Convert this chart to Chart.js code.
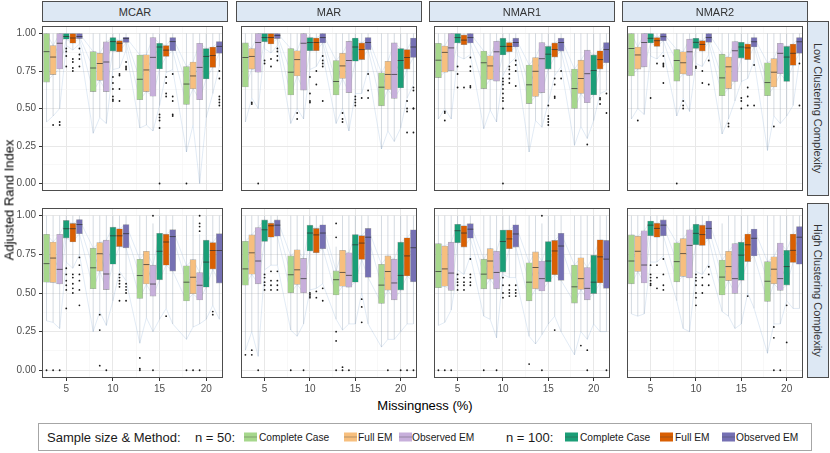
<!DOCTYPE html>
<html>
<head>
<meta charset="utf-8">
<script src="https://cdn.jsdelivr.net/npm/chart.js@4.4.1/dist/chart.umd.min.js"></script>
<style>
  body { margin: 0; width: 830px; height: 453px; background: #fff; position: relative; overflow: hidden;
         font-family: "Liberation Sans", Arial, sans-serif; color: #1a1a1a; }
  canvas { position: absolute; }
  .strip { position: absolute; background: #dde8f4; border: 1px solid #4d4d4d; box-sizing: border-box;
           font-size: 11px; color: #333; display: flex; align-items: center; justify-content: center; white-space: nowrap; }
  .strip.side { writing-mode: vertical-rl; }
  .title { position: absolute; font-size: 13px; color: #000; white-space: nowrap; }
  #legend { position: absolute; left: 38px; top: 423px; width: 774px; height: 28px; border: 1px solid #a6a6a6;
            box-sizing: border-box; }
  #legend span { position: absolute; top: 50%; transform: translateY(-50%); white-space: nowrap; }
  #legend .big { font-size: 13px; }
  #legend .item { font-size: 10.2px; }
  #legend .key { width: 13px; height: 9px; }
  #legend .key::after { content: ""; position: absolute; left: 0; right: 0; top: 4px; height: 1px; background: rgba(60,60,60,0.35); }
</style>
</head>
<body>
<div id="legend"></div>
<script>
// facets, groups and tick labels
const mechanisms = ['MCAR', 'MAR', 'NMAR1', 'NMAR2'];
const complexities = ['Low Clustering Complexity', 'High Clustering Complexity'];
const missingLevels = [5, 10, 15, 20];
const methods = ['Complete Case', 'Full EM', 'Observed EM'];
const sampleSizes = ['n = 50:', 'n = 100:'];
const yTicks = [0, 0.25, 0.5, 0.75, 1];
const xTicks = [5, 10, 15, 20];

// box stats: [lower whisker, q1, median, q3, upper whisker, outliers]
// per missingness level: n=50 CC, FEM, OEM, then n=100 CC, FEM, OEM
const mcarLow = [
  [0.41,0.676,0.879,1,1,[]], [0.45,0.726,0.843,0.92,1,[0.39]], [0.5,0.764,0.935,1,1,[0.39,0.41]],
  [0.92,0.962,0.98,1,1,[0.9,0.88,0.85,0.78]], [0.89,0.935,0.97,1,1,[0.83,0.81,0.77,0.75]], [0.93,0.966,0.98,1,1,[0.9,0.86,0.83,0.78]],
  [0.335,0.613,0.77,0.879,1,[]], [0.44,0.688,0.8,0.868,1,[]], [0.4,0.613,0.81,0.944,1,[]],
  [0.76,0.883,0.946,0.973,1,[0.71,0.67,0.63,0.58,0.56,0.55]], [0.77,0.879,0.935,0.952,1,[0.73,0.72,0.63,0.55]], [0.89,0.94,0.966,0.975,1,[0.81,0.78,0.77,0.76]],
  [0.37,0.559,0.695,0.856,1,[]], [0.39,0.613,0.757,0.858,1,[]], [0.35,0.582,0.841,0.973,1,[]],
  [0.52,0.764,0.91,0.935,1,[0.46,0.44,0.42,0.37,0]], [0.74,0.847,0.889,0.92,1,[0.71,0.67,0.6,0.58]], [0.76,0.885,0.946,0.973,1,[0.73,0.58,0.55,0.46,0.45]],
  [0.21,0.527,0.663,0.78,1,[0]], [0.39,0.632,0.717,0.81,1,[]], [0,0.559,0.774,0.935,1,[]],
  [0.44,0.697,0.847,0.9,1,[]], [0.6,0.774,0.853,0.91,1,[]], [0.78,0.868,0.914,0.946,1,[0.75,0.7,0.58,0.56,0.54,0.52]]
];
const marLow = [
  [0.41,0.644,0.84,0.937,1,[]], [0.57,0.763,0.847,0.9,1,[0.54,0.53]], [0.5,0.742,0.94,1,1,[0]],
  [0.9,0.945,0.973,1,1,[0.82,0.8]], [0.87,0.93,0.973,1,1,[0.83,0.78]], [0.92,0.966,0.987,1,1,[0.9,0.88,0.85,0.82]],
  [0.4,0.59,0.742,0.9,1,[]], [0.5,0.717,0.826,0.885,1,[0.47,0.43]], [0.43,0.623,0.935,1,1,[]],
  [0.76,0.885,0.94,0.973,1,[0.71,0.6,0.55,0.54]], [0.78,0.885,0.94,0.97,1,[0.75,0.66]], [0.86,0.937,0.973,1,1,[0.85,0.82,0.8,0.78,0.55]],
  [0.4,0.59,0.68,0.82,1,[]], [0.5,0.7,0.784,0.868,1,[0.47,0.43,0.41]], [0.35,0.606,0.82,0.947,1,[]],
  [0.6,0.815,0.91,0.97,1,[0.58,0.56,0.54,0.52]], [0.6,0.826,0.893,0.937,1,[0.57]], [0.76,0.893,0.94,0.973,1,[0.73,0.62,0.57]],
  [0.23,0.518,0.642,0.738,1,[]], [0.35,0.627,0.727,0.815,1,[]], [0.28,0.568,0.727,0.937,1,[]],
  [0.37,0.637,0.82,0.9,1,[]], [0.57,0.763,0.84,0.893,1,[0.55,0.5,0.48,0.34]], [0.66,0.84,0.91,0.97,1,[0.64,0.62,0.5,0.5,0.34]]
];
const nmar1Low = [
  [0.43,0.706,0.822,0.935,1,[]], [0.5,0.742,0.874,0.916,1,[0.48,0.47,0.42]], [0.43,0.753,0.904,1,1,[]],
  [0.85,0.937,0.973,1,1,[0.78,0.73,0.64]], [0.83,0.925,0.956,0.99,1,[0.64]], [0.86,0.937,0.973,1,1,[0.84,0.78,0.75,0.65,0.64]],
  [0.365,0.633,0.805,0.883,1,[]], [0.49,0.694,0.784,0.851,1,[]], [0.41,0.683,0.878,0.948,1,[]],
  [0.72,0.857,0.914,0.969,1,[0.7,0.68,0.66,0.63,0.6,0.57,0.55,0.5,0]], [0.8,0.878,0.914,0.94,1,[0.78,0.76,0.73,0.7,0.67]], [0.84,0.91,0.94,0.969,1,[0.82,0.79,0.75,0.65]],
  [0.21,0.533,0.658,0.79,1,[]], [0.42,0.58,0.748,0.84,1,[]], [0.375,0.606,0.832,0.94,1,[]],
  [0.54,0.763,0.862,0.914,1,[0.52,0.45,0.43,0.41,0.39]], [0.72,0.843,0.893,0.937,1,[0.7,0.66,0.58,0.57]], [0.78,0.883,0.94,0.969,1,[0.75,0.7]],
  [0.254,0.5,0.633,0.763,1,[]], [0.38,0.6,0.7,0.822,1,[]], [0.3,0.539,0.732,0.889,1,[0.26]],
  [0.42,0.59,0.753,0.857,1,[]], [0.6,0.763,0.826,0.885,1,[0.57,0.56,0.53]], [0.62,0.805,0.893,0.94,1,[0.6,0.47]]
];
const nmar2Low = [
  [0.43,0.717,0.9,1,1,[]], [0.5,0.763,0.857,0.91,1,[0.42]], [0.46,0.778,0.94,1,1,[]],
  [0.85,0.937,0.968,1,1,[0.57]], [0.83,0.914,0.952,0.973,1,[0.8]], [0.88,0.952,0.979,1,1,[0.85,0.8,0.79,0.78,0.67]],
  [0.45,0.683,0.82,0.893,1,[0]], [0.57,0.73,0.805,0.878,1,[0.55,0.52,0.5]], [0.48,0.72,0.878,0.962,1,[]],
  [0.8,0.9,0.941,0.968,1,[0.78,0.77]], [0.78,0.883,0.927,0.952,1,[0.75,0.67]], [0.86,0.941,0.973,1,1,[0.82,0.66]],
  [0.33,0.585,0.704,0.862,1,[]], [0.43,0.633,0.778,0.843,1,[0.4,0.38]], [0.55,0.68,0.885,0.946,1,[]],
  [0.68,0.836,0.91,0.941,1,[0.57,0.55,0.5]], [0.7,0.826,0.904,0.93,1,[0.64,0.58,0.52]], [0.82,0.91,0.945,0.973,1,[0.79,0.52]],
  [0.22,0.585,0.673,0.805,1,[]], [0.45,0.644,0.742,0.832,1,[0.38]], [0.4,0.732,0.868,0.935,1,[]],
  [0.45,0.68,0.843,0.914,1,[]], [0.52,0.788,0.868,0.93,1,[]], [0.82,0.868,0.945,0.973,1,[0.8,0.52]]
];
const mcarHigh = [
  [0.32,0.57,0.69,0.88,1,[0]], [0.31,0.568,0.726,0.83,1,[0]], [0.27,0.558,0.653,0.88,1,[0]],
  [0.7,0.855,0.916,0.97,1,[0.66,0.62,0.58,0.55,0.52,0.4]], [0.66,0.83,0.916,0.95,1,[0.62,0.6,0.56,0.53,0.5]], [0.75,0.884,0.943,0.975,1,[0.73,0.68,0.62,0.58,0.52,0.42]],
  [0.25,0.528,0.663,0.79,1,[]], [0.38,0.642,0.754,0.827,1,[0.36,0.26,0.03]], [0.29,0.522,0.623,0.842,1,[0]],
  [0.45,0.686,0.87,0.926,1,[]], [0.64,0.8,0.87,0.916,1,[0.62,0.6,0.58,0.56,0.54,0.45]], [0.58,0.792,0.884,0.943,1,[0.56,0.54,0.52,0.5,0.45]],
  [0.175,0.465,0.613,0.718,1,[0.08,0.01,0]], [0.34,0.558,0.684,0.77,1,[]], [0.25,0.48,0.558,0.68,0.95,[1,0]],
  [0.33,0.585,0.77,0.886,1,[]], [0.4,0.68,0.83,0.88,1,[0.35]], [0.3,0.642,0.865,0.91,1,[]],
  [0.2,0.448,0.57,0.676,1,[0]], [0.28,0.495,0.602,0.716,1,[0]], [0.3,0.455,0.55,0.632,0.88,[1,0.95,0.93,0.9,0]],
  [0.33,0.537,0.7,0.842,1,[]], [0.42,0.655,0.775,0.827,1,[0.38,0.36]], [0.33,0.564,0.775,0.884,1,[]]
];
const marHigh = [
  [0.13,0.55,0.656,0.835,1,[0.1]], [0.25,0.622,0.76,0.876,1,[0.13,0.1]], [0.09,0.559,0.707,0.924,1,[0]],
  [0.65,0.833,0.909,0.973,1,[0.62,0.6,0.57,0.55,0.52]], [0.68,0.861,0.935,0.951,1,[0.64,0.58,0.55,0.52]], [0.68,0.867,0.939,0.973,1,[0.64,0.58,0.55,0.52]],
  [0.26,0.502,0.618,0.74,1,[0]], [0.22,0.555,0.65,0.78,1,[]], [0.3,0.502,0.593,0.724,1,[0]],
  [0.52,0.772,0.888,0.939,1,[0.5,0.49,0.48,0.47]], [0.53,0.76,0.876,0.918,1,[0.51,0.47]], [0.56,0.787,0.888,0.941,1,[0.53,0.45]],
  [0.33,0.487,0.586,0.643,0.8,[0.95,0.86,0.25,0.19,0]], [0.26,0.544,0.633,0.776,1,[0.02,0]], [0.3,0.538,0.614,0.76,1,[0]],
  [0.3,0.57,0.812,0.878,1,[]], [0.5,0.717,0.823,0.871,1,[0.46,0.41,0.31]], [0.3,0.601,0.861,0.918,1,[]],
  [0.15,0.432,0.551,0.686,1,[]], [0.2,0.519,0.639,0.74,1,[0]], [0.2,0.456,0.565,0.719,1,[]],
  [0.25,0.519,0.614,0.829,1,[0]], [0.3,0.61,0.74,0.857,1,[0]], [0.3,0.572,0.793,0.909,1,[0]]
];
const nmar1High = [
  [0.29,0.534,0.639,0.819,1,[0]], [0.31,0.544,0.656,0.804,1,[0]], [0.39,0.517,0.629,0.829,1,[0]],
  [0.65,0.825,0.903,0.945,1,[0.62,0.59,0.57,0.55,0.52]], [0.62,0.797,0.888,0.935,1,[0.6,0.57,0.55,0.52]], [0.74,0.854,0.913,0.949,1,[0.72,0.62,0.6,0.57,0.55]],
  [0.35,0.527,0.622,0.719,1,[0]], [0.33,0.59,0.707,0.787,1,[]], [0.21,0.527,0.633,0.77,1,[0]],
  [0.62,0.635,0.833,0.907,1,[0.6,0.55,0.5,0.47]], [0.6,0.787,0.85,0.907,1,[0.55,0.52,0.5,0.48]], [0.6,0.797,0.882,0.941,1,[0.55,0.52,0.5,0.48]],
  [0.22,0.449,0.57,0.696,1,[0.04]], [0.17,0.527,0.665,0.766,1,[]], [0.23,0.513,0.593,0.707,0.95,[1,0]],
  [0.3,0.572,0.707,0.833,1,[]], [0.35,0.618,0.772,0.84,1,[0.26]], [0.25,0.582,0.804,0.886,1,[]],
  [0.1,0.435,0.54,0.681,1,[]], [0.25,0.523,0.593,0.728,1,[0.16]], [0.2,0.456,0.53,0.665,1,[0.13,0]],
  [0.3,0.496,0.57,0.745,1,[]], [0.25,0.565,0.734,0.844,1,[]], [0.25,0.53,0.719,0.84,1,[0]]
];
const nmar2High = [
  [0.365,0.559,0.707,0.876,1,[]], [0.35,0.639,0.77,0.867,1,[]], [0.365,0.565,0.681,0.903,1,[]],
  [0.7,0.871,0.939,0.966,1,[0.68,0.62,0.6,0.58,0.56,0.55]], [0.7,0.861,0.918,0.951,1,[0.68,0.6,0.53]], [0.74,0.871,0.939,0.973,1,[0.72,0.62,0.55,0.52]],
  [0.45,0.572,0.703,0.825,1,[]], [0.27,0.608,0.755,0.852,1,[]], [0.25,0.597,0.808,0.909,1,[]],
  [0.64,0.812,0.886,0.945,1,[0.62,0.6,0.58,0.55,0.5,0.47,0.42]], [0.62,0.808,0.878,0.939,1,[0.6,0.55,0.5]], [0.69,0.85,0.918,0.966,1,[0.67,0.62,0.55]],
  [0.38,0.487,0.603,0.713,0.95,[]], [0.35,0.58,0.671,0.77,1,[]], [0.27,0.498,0.593,0.819,1,[]],
  [0.3,0.582,0.745,0.829,1,[]], [0.5,0.703,0.812,0.882,1,[0.48]], [0.4,0.74,0.854,0.914,1,[]],
  [0.11,0.445,0.576,0.703,1,[]], [0.3,0.559,0.654,0.734,1,[0.28,0.21,0]], [0.3,0.517,0.593,0.823,1,[0]],
  [0.45,0.551,0.671,0.776,1,[0.42,0.18]], [0.4,0.698,0.776,0.882,1,[]], [0.4,0.686,0.861,0.93,1,[]]
];

const panelRows = [
  [mcarLow, marLow, nmar1Low, nmar2Low],
  [mcarHigh, marHigh, nmar1High, nmar2High]
];

// n=50 (light) then n=100 (dark)
const boxColors = ['#a6d78c', '#f7bf7e', '#c7afdb', '#1b9e77', '#d95f02', '#7570b3'];

// layout
const colLeft = [42, 236, 429, 622];
const rowTop = [21, 203];
const panelW = 186, panelH = 175;
const dodge = 0.705;

function boxX(b) {
  const level = missingLevels[Math.floor(b / 6)];
  return level + (b % 6 - 3) * dodge;
}

const panelBorder = {
  id: 'panelBorder',
  afterDraw(chart) {
    const a = chart.chartArea, ctx = chart.ctx;
    ctx.save();
    ctx.strokeStyle = '#4d4d4d';
    ctx.lineWidth = 1;
    ctx.strokeRect(a.left + 0.5, a.top + 0.5, a.right - a.left - 1, a.bottom - a.top - 1);
    ctx.restore();
  }
};

function makePanel(r, c) {
  const boxes = panelRows[r][c];
  const showY = c === 0, showX = r === 1;
  const canvas = document.createElement('canvas');
  const w = panelW + (showY ? 40 : 0);
  const h = panelH + (showX ? 18 : 0);
  canvas.width = w; canvas.height = h;
  canvas.style.left = (colLeft[c] - (showY ? 40 : 0)) + 'px';
  canvas.style.top = rowTop[r] + 'px';
  canvas.style.width = w + 'px'; canvas.style.height = h + 'px';
  document.body.appendChild(canvas);

  const datasets = [];

  // faint connecting lines behind the boxes
  [0, 1, 2, 3].forEach(s => {
    datasets.push({
      type: 'line', order: 6,
      data: boxes.map((bx, b) => ({ x: boxX(b), y: bx[s] })),
      borderColor: 'rgba(96,146,200,0.3)', borderWidth: 0.6, pointRadius: 0, tension: 0
    });
  });

  // whiskers: one broken line, lower -> upper for every box
  const whisk = [];
  boxes.forEach((bx, b) => {
    whisk.push({ x: boxX(b), y: bx[0] }, { x: boxX(b), y: bx[4] }, { x: boxX(b), y: null });
  });
  datasets.push({
    type: 'line', order: 5, data: whisk, spanGaps: false,
    borderColor: 'rgba(135,152,172,0.6)', borderWidth: 0.6, pointRadius: 0
  });

  // boxes, one dataset per sample size / method
  for (let k = 0; k < 6; k++) {
    datasets.push({
      type: 'bar', order: 4,
      label: sampleSizes[k < 3 ? 0 : 1] + ' ' + methods[k % 3],
      data: missingLevels.map((lv, g) => {
        const bx = boxes[g * 6 + k];
        return { x: boxX(g * 6 + k), y: [bx[1], bx[3]] };
      }),
      backgroundColor: boxColors[k], borderColor: 'rgba(70,70,70,0.45)', borderWidth: 0.6,
      borderSkipped: false, barThickness: 6, grouped: false
    });
  }

  // medians
  datasets.push({
    type: 'line', order: 3, showLine: false,
    data: boxes.map((bx, b) => ({ x: boxX(b), y: bx[2] })),
    pointStyle: 'line', pointRadius: 3, pointBorderWidth: 1, pointBorderColor: 'rgba(45,45,45,0.7)'
  });

  // outliers
  const outs = [];
  boxes.forEach((bx, b) => bx[5].forEach(v => outs.push({ x: boxX(b), y: v })));
  datasets.push({
    type: 'line', order: 2, showLine: false, data: outs,
    pointRadius: 0.9, pointBorderWidth: 0, pointBackgroundColor: '#1a1a1a'
  });

  new Chart(canvas.getContext('2d'), {
    type: 'bar',
    data: { datasets },
    options: {
      responsive: false, animation: false, events: [],
      layout: { padding: 0 },
      plugins: { legend: { display: false }, tooltip: { enabled: false } },
      scales: {
        x: {
          type: 'linear', min: 2.4, max: 21.8, offset: false,
          border: { display: false },
          grid: {
            offset: false, drawTicks: showX, tickLength: 3,
            color: ctx => xTicks.includes(ctx.tick.value) ? '#e8e8e8' : '#f4f4f4',
            lineWidth: ctx => xTicks.includes(ctx.tick.value) ? 1 : 0.6,
            tickColor: ctx => xTicks.includes(ctx.tick.value) ? '#333' : 'rgba(0,0,0,0)'
          },
          ticks: {
            display: showX, stepSize: 2.5, includeBounds: false, autoSkip: false, maxRotation: 0,
            padding: 2, color: '#4d4d4d', font: { size: 10, family: 'Liberation Sans' },
            callback: v => xTicks.includes(v) ? String(v) : ''
          },
          afterFit: s => { s.height = showX ? 18 : 0; s.paddingLeft = 0; s.paddingRight = 0; }
        },
        y: {
          min: -0.05, max: 1.05,
          border: { display: false },
          grid: {
            drawTicks: showY, tickLength: 3,
            color: ctx => yTicks.includes(ctx.tick.value) ? '#e8e8e8' : '#f4f4f4',
            lineWidth: ctx => yTicks.includes(ctx.tick.value) ? 1 : 0.6,
            tickColor: ctx => yTicks.includes(ctx.tick.value) ? '#333' : 'rgba(0,0,0,0)'
          },
          ticks: {
            display: showY, stepSize: 0.125, includeBounds: false, autoSkip: false,
            padding: 3, color: '#4d4d4d', font: { size: 10, family: 'Liberation Sans' },
            callback: v => yTicks.includes(v) ? v.toFixed(2) : ''
          },
          afterFit: s => { s.width = showY ? 40 : 0; s.paddingTop = 0; s.paddingBottom = 0; }
        }
      }
    },
    plugins: [panelBorder]
  });
}

for (let r = 0; r < 2; r++) for (let c = 0; c < 4; c++) makePanel(r, c);

// strips
function addDiv(cls, text, left, top, width, height) {
  const d = document.createElement('div');
  d.className = cls;
  d.textContent = text;
  Object.assign(d.style, { left: left + 'px', top: top + 'px', width: width + 'px', height: height + 'px' });
  document.body.appendChild(d);
  return d;
}
mechanisms.forEach((m, c) => addDiv('strip', m, colLeft[c], 1, panelW, 21));
complexities.forEach((t, r) => addDiv('strip side', t, colLeft[3] + panelW - 1, rowTop[r], 22, panelH));

// axis titles
const yTitle = addDiv('title', 'Adjusted Rand Index', 0, 0, 0, 0);
Object.assign(yTitle.style, { left: '9px', top: '200px', width: 'auto', height: 'auto', transform: 'translate(-50%,-50%) rotate(-90deg)' });
const xTitle = addDiv('title', 'Missingness (%)', 0, 0, 0, 0);
Object.assign(xTitle.style, { left: '425px', top: '405px', width: 'auto', height: 'auto', transform: 'translate(-50%,-50%)' });

// legend
const legend = document.getElementById('legend');
function legendSpan(cls, text, left, bg) {
  const s = document.createElement('span');
  s.className = cls;
  s.textContent = text;
  s.style.left = (left - 38) + 'px';
  if (bg) s.style.background = bg;
  legend.appendChild(s);
}
legendSpan('big', 'Sample size & Method:', 46);
legendSpan('big', sampleSizes[0], 194);
legendSpan('big', sampleSizes[1], 505);
const keyLeft = [243, 343, 398, 564, 659, 721];
const textLeft = [258, 357, 411, 579, 674, 735];
for (let k = 0; k < 6; k++) {
  legendSpan('key', '', keyLeft[k], boxColors[k]);
  legendSpan('item', methods[k % 3], textLeft[k]);
}
</script>
</body>
</html>
